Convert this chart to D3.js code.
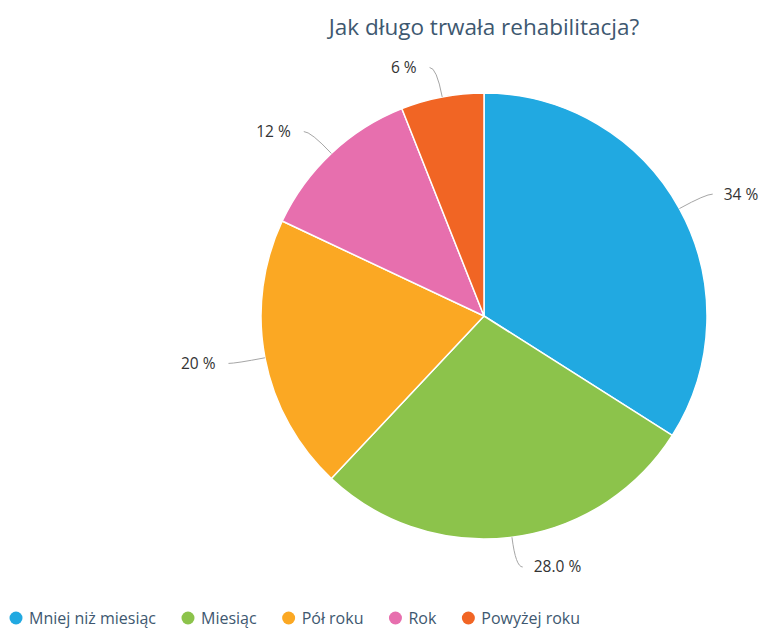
<!DOCTYPE html>
<html>
<head>
<meta charset="utf-8">
<script src="https://cdn.jsdelivr.net/npm/d3@7"></script>
<style>
  html, body { margin: 0; padding: 0; background: #fff; }
  svg { display: block; font-family: "Open Sans", "Noto Sans", sans-serif; }
</style>
</head>
<body>
<svg id="chart" width="760" height="630"></svg>
<script>
const title = "Jak długo trwała rehabilitacja?";
const categories = ["Mniej niż miesiąc", "Miesiąc", "Pół roku", "Rok", "Powyżej roku"];
const values = [34, 28, 20, 12, 6];
const valueLabels = ["34 %", "28.0 %", "20 %", "12 %", "6 %"];
const colors = ["#21a9e1", "#8cc34b", "#fba823", "#e76fae", "#f16524"];

const svg = d3.select("#chart");
const cx = 484, cy = 316, r = 223;

// Title
svg.append("text")
  .attr("x", cx).attr("y", 35)
  .attr("text-anchor", "middle")
  .attr("font-size", 22.5)
  .attr("fill", "#3e5870")
  .text(title);

const data = categories.map((c, i) => ({ name: c, value: values[i], label: valueLabels[i], color: colors[i] }));

const pie = d3.pie().value(d => d.value).sort(null);
const arcs = pie(data);
const arc = d3.arc().innerRadius(0).outerRadius(r);

const g = svg.append("g").attr("transform", `translate(${cx},${cy})`);

g.selectAll("path.slice")
  .data(arcs)
  .join("path")
  .attr("class", "slice")
  .attr("d", arc)
  .attr("fill", d => d.data.color)
  .attr("stroke", "#fff")
  .attr("stroke-width", 1.5);

// Data labels with curved connectors
const polar = (a, rad) => [Math.sin(a) * rad, -Math.cos(a) * rad];
const labelGap = 30, tail = 7;

arcs.forEach(d => {
  const mid = (d.startAngle + d.endAngle) / 2;
  const side = Math.sin(mid) >= 0 ? 1 : -1;
  const p0 = polar(mid, r);
  const p1 = polar(mid, r + labelGap);
  const end = [p1[0] + side * tail, p1[1]];
  const path = d3.path();
  path.moveTo(p0[0], p0[1]);
  path.quadraticCurveTo(p1[0], p1[1], end[0], end[1]);
  g.append("path")
    .attr("d", path.toString())
    .attr("fill", "none")
    .attr("stroke", "#a6a6a6")
    .attr("stroke-width", 1);
  g.append("text")
    .attr("x", end[0] + side * (side > 0 ? 11 : 13))
    .attr("y", end[1])
    .attr("dy", "0.35em")
    .attr("text-anchor", side > 0 ? "start" : "end")
    .attr("font-size", 15.5)
    .attr("fill", "#333")
    .text(d.data.label);
});

// Legend
const legend = svg.append("g").attr("transform", "translate(16,618)");
let lx = 0;
data.forEach(d => {
  const item = legend.append("g").attr("transform", `translate(${lx},0)`);
  item.append("circle").attr("r", 6.5).attr("fill", d.color);
  const t = item.append("text")
    .attr("x", 13).attr("dy", "0.35em")
    .attr("font-size", 16)
    .attr("fill", "#3e5870")
    .text(d.name);
  lx += 13 + t.node().getComputedTextLength() + 32;
});
</script>
</body>
</html>
